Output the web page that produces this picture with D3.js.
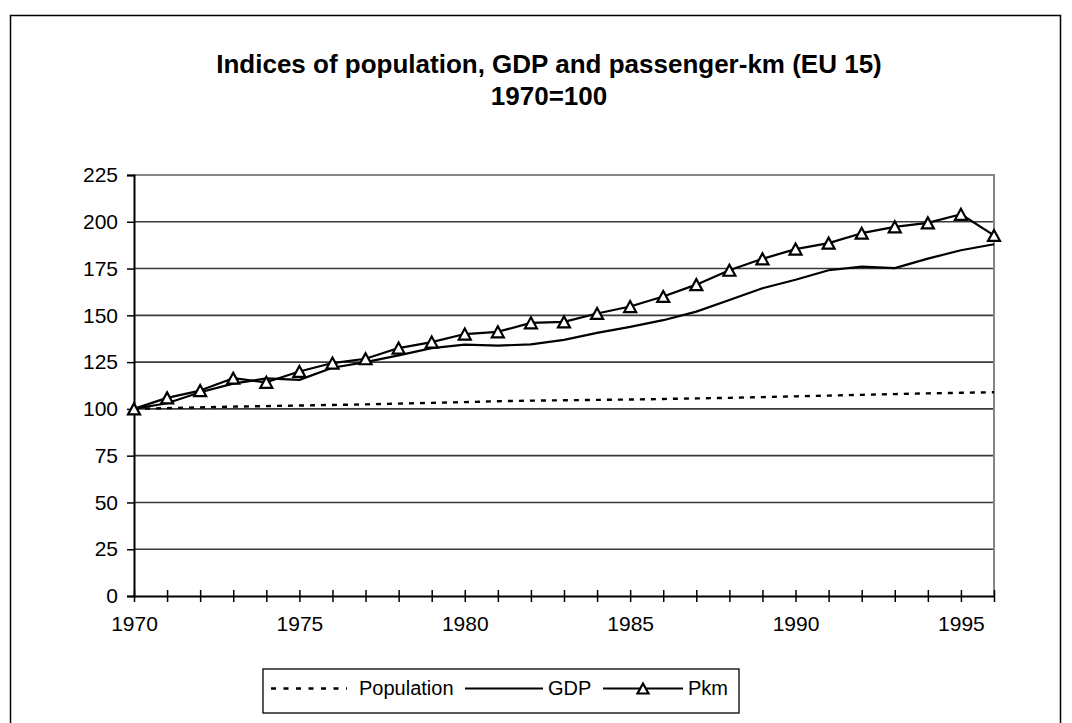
<!DOCTYPE html>
<html>
<head>
<meta charset="utf-8">
<script src="https://cdn.jsdelivr.net/npm/d3@7"></script>
<style>
  html, body { margin: 0; padding: 0; background: #fff; }
  svg { display: block; }
  text { font-family: Arial, "Liberation Sans", sans-serif; fill: #000; }
</style>
</head>
<body>
<svg id="chart" width="1072" height="723"></svg>
<script>
const years = d3.range(1970, 1997);
const population = [100.0, 100.4, 100.8, 101.2, 101.5, 101.8, 102.1, 102.4, 102.8, 103.2,
  103.6, 104.1, 104.4, 104.6, 104.8, 105.0, 105.3, 105.6, 105.9, 106.3,
  106.7, 107.1, 107.5, 107.9, 108.3, 108.6, 108.9];
const gdp = [100, 103, 108.9, 113.5, 116.3, 115.5, 122, 125, 128.6, 132.5,
  134.3, 133.8, 134.5, 136.9, 140.6, 143.8, 147.4, 152.0, 158.2, 164.5,
  169.0, 174.1, 176.0, 175.2, 180.3, 184.8, 188.0];
const pkm = [100, 105.9, 109.8, 116.4, 114.2, 120, 124.5, 126.8, 132.5, 135.7,
  140, 141.2, 146, 146.5, 151, 154.7, 160.1, 166.4, 174.1, 180.2,
  185.4, 188.6, 193.9, 197.3, 199.4, 204, 192.7];
const yTicks = [0, 25, 50, 75, 100, 125, 150, 175, 200, 225];
const xLabelYears = [1970, 1975, 1980, 1985, 1990, 1995];
const seriesNames = ["Population", "GDP", "Pkm"];
const titleLines = ["Indices of population, GDP and passenger-km (EU 15)", "1970=100"];

const svg = d3.select("#chart");
const plot = { left: 134, right: 994, top: 175, bottom: 596 };

const x = d3.scaleLinear().domain([1970, 1996]).range([plot.left, plot.right]);
const y = d3.scaleLinear().domain([0, 225]).range([plot.bottom, plot.top]);

// outer chart border (bottom extends past the viewport)
svg.append("rect").attr("x", 10.5).attr("y", 15.5).attr("width", 1050).attr("height", 900)
  .attr("fill", "none").attr("stroke", "#000").attr("stroke-width", 1.5);

// title
svg.append("text").attr("x", 549).attr("y", 73).attr("text-anchor", "middle")
  .attr("font-size", 26).attr("font-weight", "bold").text(titleLines[0]);
svg.append("text").attr("x", 549).attr("y", 105).attr("text-anchor", "middle")
  .attr("font-size", 26).attr("font-weight", "bold").text(titleLines[1]);

// gridlines
svg.append("g").selectAll("line").data(yTicks.filter(d => d > 0 && d < 225)).join("line")
  .attr("x1", plot.left).attr("x2", plot.right)
  .attr("y1", d => y(d)).attr("y2", d => y(d))
  .attr("stroke", "#3a3a3a").attr("stroke-width", 1.6);

// plot border top & right (gray)
svg.append("path")
  .attr("d", `M${plot.left},${y(225)}H${plot.right}V${plot.bottom}`)
  .attr("fill", "none").attr("stroke", "#858585").attr("stroke-width", 2);

// y axis
const yAxis = d3.axisLeft(y).tickValues(yTicks).tickSize(7).tickPadding(9);
const gy = svg.append("g").attr("transform", `translate(${plot.left},0)`).call(yAxis);
gy.select(".domain").attr("stroke", "#000").attr("stroke-width", 2);
gy.selectAll(".tick line").attr("stroke", "#000").attr("stroke-width", 1.5);
gy.selectAll(".tick text").attr("font-size", 21).attr("font-family", 'Arial, "Liberation Sans", sans-serif').attr("fill", "#000");

// x axis (cross ticks)
const xAxis = d3.axisBottom(x).tickValues(years).tickSize(6).tickSizeOuter(0)
  .tickFormat(d => xLabelYears.includes(d) ? String(d) : "").tickPadding(14);
const gx = svg.append("g").attr("transform", `translate(0,${plot.bottom})`).call(xAxis);
gx.select(".domain").attr("stroke", "#000").attr("stroke-width", 2);
gx.selectAll(".tick line").attr("y1", -6).attr("y2", 6).attr("stroke", "#000").attr("stroke-width", 1.5);
gx.selectAll(".tick text").attr("font-size", 21).attr("font-family", 'Arial, "Liberation Sans", sans-serif').attr("fill", "#000");

// lines
const line = d3.line().x((d, i) => x(years[i])).y(d => y(d));
svg.append("path").datum(population).attr("d", line).attr("fill", "none")
  .attr("stroke", "#000").attr("stroke-width", 2.4).attr("stroke-dasharray", "5,6");
svg.append("path").datum(gdp).attr("d", line).attr("fill", "none")
  .attr("stroke", "#000").attr("stroke-width", 2.2).attr("stroke-linejoin", "round");
svg.append("path").datum(pkm).attr("d", line).attr("fill", "none")
  .attr("stroke", "#000").attr("stroke-width", 2.2).attr("stroke-linejoin", "round");

// triangle markers (bbox centered)
function tri(cx, cy, w, h) {
  return `M${cx},${cy - h / 2}L${cx + w / 2},${cy + h / 2}L${cx - w / 2},${cy + h / 2}Z`;
}
svg.append("g").selectAll("path").data(pkm).join("path")
  .attr("d", (d, i) => tri(x(years[i]), y(d), 12, 11))
  .attr("fill", "#fff").attr("stroke", "#000").attr("stroke-width", 2.2)
  .attr("stroke-linejoin", "miter");

// legend
const lg = svg.append("g");
lg.append("rect").attr("x", 263).attr("y", 669).attr("width", 476).attr("height", 44)
  .attr("fill", "#fff").attr("stroke", "#000").attr("stroke-width", 1.3);
const ly = 688.5;
lg.append("line").attr("x1", 271).attr("x2", 347).attr("y1", ly).attr("y2", ly)
  .attr("stroke", "#000").attr("stroke-width", 2.4).attr("stroke-dasharray", "5,7.5");
lg.append("text").attr("x", 359).attr("y", 695).attr("font-size", 20).text(seriesNames[0]);
lg.append("line").attr("x1", 465).attr("x2", 543).attr("y1", ly).attr("y2", ly)
  .attr("stroke", "#000").attr("stroke-width", 2.2);
lg.append("text").attr("x", 548).attr("y", 695).attr("font-size", 20).text(seriesNames[1]);
lg.append("line").attr("x1", 603).attr("x2", 683).attr("y1", ly).attr("y2", ly)
  .attr("stroke", "#000").attr("stroke-width", 2.2);
lg.append("path").attr("d", tri(643, ly, 11, 10)).attr("fill", "#fff")
  .attr("stroke", "#000").attr("stroke-width", 2.2);
lg.append("text").attr("x", 688).attr("y", 695).attr("font-size", 20).text(seriesNames[2]);
</script>
</body>
</html>
